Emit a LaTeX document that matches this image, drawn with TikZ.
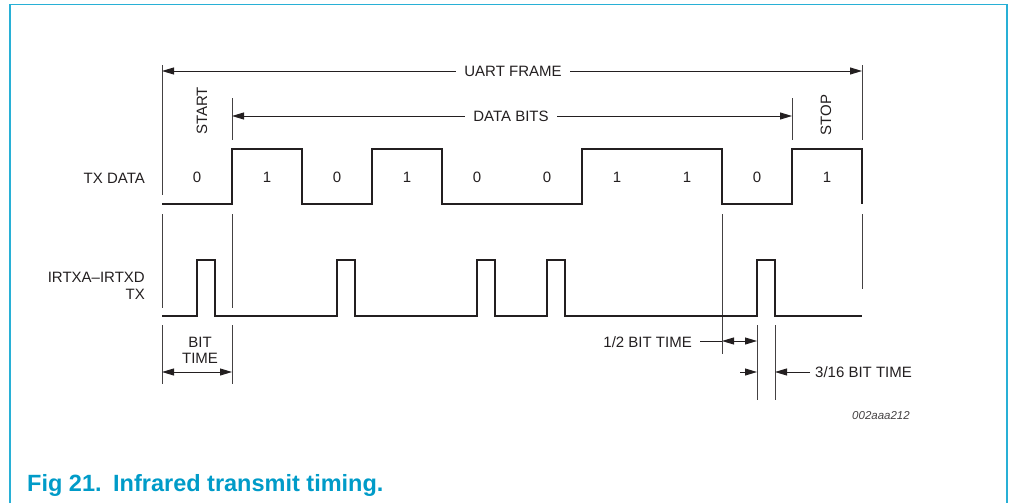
\documentclass[tikz,border=0pt]{standalone}
\usepackage{fontspec}
\setmainfont{Liberation Sans}
\usetikzlibrary{arrows.meta}
\definecolor{framecyan}{RGB}{40,176,214}
\definecolor{capblue}{RGB}{0,155,200}
\definecolor{ink}{RGB}{35,31,32}
\tikzset{
  sig/.style={line width=2pt, ink, line join=miter},
  ext/.style={line width=0.9pt, ink!85},
  tip/.tip={Triangle[length=12pt,width=7pt]},
  dim/.style={line width=0.9pt, ink, tip-tip},
  lead/.style={line width=0.9pt, ink, -tip},
  lbl/.style={font=\fontsize{15}{17}\selectfont, text=ink, inner sep=0pt},
}
\begin{document}
\begin{tikzpicture}[x=1pt,y=-1pt]
    \useasboundingbox (0,0) rectangle (1011,503);
    % figure frame, open at the bottom
    \draw[framecyan, line width=1.6pt] (10,503) -- (10,4.5) -- (1007,4.5) -- (1007,503);

    % extension lines
    \draw[ext] (162,65) -- (162,195) (862,65) -- (862,140);
    \draw[ext] (232,98) -- (232,140) (792,98) -- (792,140);
    \draw[ext] (162,214) -- (162,308) (232,214) -- (232,308);
    \draw[ext] (722,214) -- (722,354) (862,214) -- (862,289);
    \draw[ext] (162,325) -- (162,384) (232,325) -- (232,384);
    \draw[ext] (757,325) -- (757,400) (775,325) -- (775,400);

    % frame and data bits dimensions
    \coordinate (frameL) at (162,71);
    \coordinate (frameR) at (862,71);
    \coordinate (dataL) at (232,116);
    \coordinate (dataR) at (792,116);
    \draw[dim] (frameL) -- (frameR);
    \draw[dim] (dataL) -- (dataR);
    \node[lbl, fill=white, inner xsep=8pt] (uart) at (513,71) {UART FRAME};
    \node[lbl, fill=white, inner xsep=8pt] (databits) at (511,116) {DATA BITS};
    \node[lbl, rotate=90] (start) at (202,111) {START};
    \node[lbl, rotate=90] (stop) at (826,115) {STOP};

    % TX DATA
    \node[lbl, anchor=base east] (txdata) at (145,183) {TX DATA};
    \draw[sig] (162,204) -- (232,204) -- (232,149) -- (302,149) -- (302,204) -- (372,204) -- (372,149) -- (442,149) -- (442,204)
        -- (582,204) -- (582,149) -- (722,149) -- (722,204) -- (792,204) -- (792,149) -- (862,149) -- (862,204);
    \foreach \b [count=\i] in {0,1,0,1,0,0,1,1,0,1}
        \node[lbl] (bit\i) at (127+70*\i,177) {\b};

    % IR output
    \node[lbl, align=right, anchor=north east] (irtx) at (145,271.5) {IRTXA–IRTXD\\TX};
    \draw[sig] (162,316) -- (197,316) -- (197,260) -- (215,260) -- (215,316) -- (337,316) -- (337,260) -- (355,260) -- (355,316)
        -- (477,316) -- (477,260) -- (495,260) -- (495,316) -- (547,316) -- (547,260) -- (565,260) -- (565,316)
        -- (757,316) -- (757,260) -- (775,260) -- (775,316) -- (862,316);

    % timing annotations
    \node[lbl, align=center, anchor=north, font=\fontsize{15}{16.5}\selectfont] (bittime) at (200,336.5) {BIT\\TIME};
    \coordinate (bitL) at (162,372);
    \coordinate (bitR) at (232,372);
    \draw[dim] (bitL) -- (bitR);

    \node[lbl, anchor=base east] (halfbit) at (692,347) {1/2 BIT TIME};
    \coordinate (halfLead) at (700,341);
    \coordinate (halfL) at (722,341);
    \coordinate (halfR) at (757,341);
    \draw[ext, ink] (halfLead) -- (halfL);
    \draw[dim] (halfL) -- (halfR);

    \node[lbl, anchor=base west] (pulsewidth) at (815,377) {3/16 BIT TIME};
    \coordinate (pwA) at (740,372);
    \coordinate (pwB) at (757,372);
    \coordinate (pwC) at (775,372);
    \coordinate (pwD) at (810,372);
    \draw[lead] (pwA) -- (pwB);
    \draw[lead] (pwD) -- (pwC);

    \node[font=\fontsize{11.5}{13}\selectfont\itshape, text=ink!85, inner sep=0pt, anchor=base west] (figid) at (852,419) {002aaa212};

    % caption
    \node[font=\fontsize{23.5}{26}\selectfont\bfseries, text=capblue, inner sep=0pt, anchor=base west] (fignum) at (27,491) {Fig 21.};
    \node[font=\fontsize{23.5}{26}\selectfont\bfseries, text=capblue, inner sep=0pt, anchor=base west] (figtitle) at (113,491) {Infrared transmit timing.};
\end{tikzpicture}
\end{document}
